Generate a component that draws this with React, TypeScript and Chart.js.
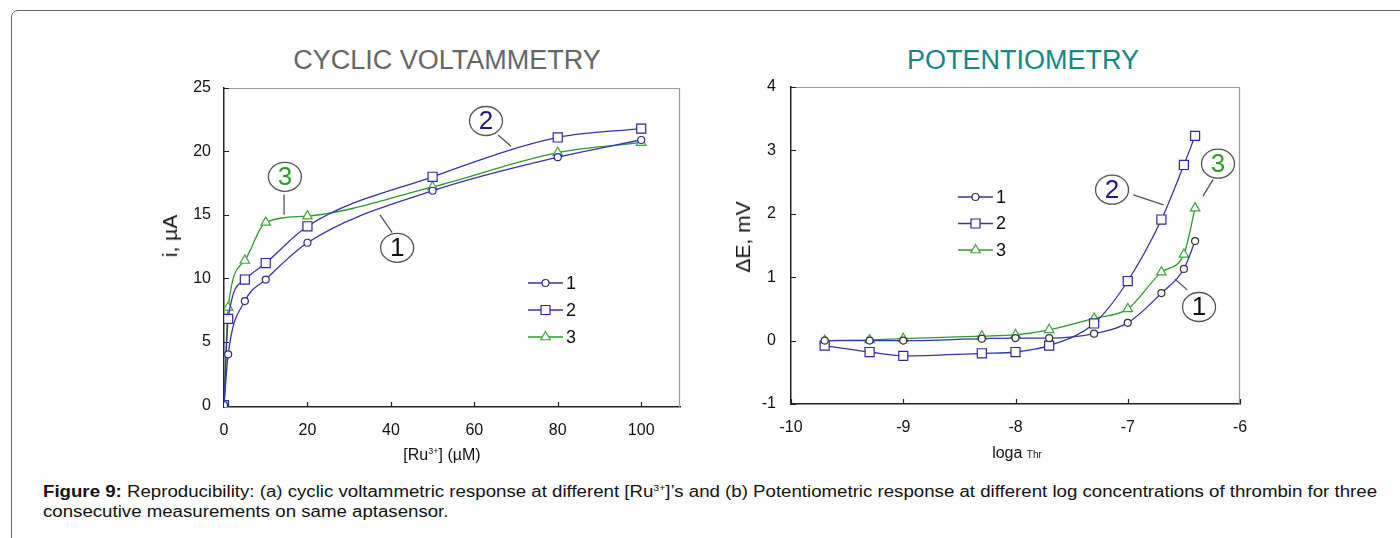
import React, { useEffect, useRef } from 'react';
import { Chart, registerables } from 'chart.js';

Chart.register(...registerables);

// ---------- Data: cyclic voltammetry ----------
const cvConc = [0, 1, 5, 10, 20, 50, 80, 100];
const cvRun1 = [0, 4.0, 8.2, 9.9, 12.8, 16.9, 19.55, 20.9];
const cvRun2 = [0, 6.8, 9.9, 11.2, 14.1, 18.0, 21.1, 21.8];
const cvRun3 = [0, 7.7, 11.4, 14.4, 14.9, 17.2, 19.9, 20.7];
const cvXTicks = [0, 20, 40, 60, 80, 100];
const cvYTicks = [0, 5, 10, 15, 20, 25];

// ---------- Data: potentiometry ----------
const potLog = [-9.7, -9.3, -9.0, -8.3, -8.0, -7.7, -7.3, -7.0, -6.7, -6.5, -6.4];
const potRun1 = [0, 0, 0, 0.03, 0.04, 0.04, 0.11, 0.28, 0.75, 1.13, 1.57];
const potRun2 = [-0.08, -0.18, -0.24, -0.2, -0.18, -0.08, 0.27, 0.94, 1.91, 2.77, 3.23];
const potRun3 = [0, 0.01, 0.03, 0.07, 0.09, 0.17, 0.35, 0.5, 1.08, 1.36, 2.09];
const potXTicks = [-10, -9, -8, -7, -6];
const potYTicks = [-1, 0, 1, 2, 3, 4];

const runNames = ['1', '2', '3'];

const FONT = '"Liberation Sans", Arial, Helvetica, sans-serif';
const BLUE = '#3636a6';
const BLUE_MK = '#2a2a9c';
const GREEN = '#2f9a2f';
const GREEN_MK = '#3fa53f';

type Note = { text: string; color: string; cx: number; cy: number; x1: number; y1: number; x2: number; y2: number };

const cvNotes: Note[] = [
  { text: '2', color: '#1b1b7c', cx: 62.8, cy: 22.4, x1: 65.7, y1: 21.3, x2: 68.8, y2: 20.4 },
  { text: '3', color: '#2f9a2f', cx: 14.6, cy: 18.0, x1: 14.4, y1: 16.6, x2: 14.4, y2: 15.0 },
  { text: '1', color: '#111111', cx: 41.5, cy: 12.4, x1: 40.3, y1: 13.6, x2: 37.4, y2: 15.0 },
];
const potNotes: Note[] = [
  { text: '2', color: '#1b1b7c', cx: -7.14, cy: 2.38, x1: -6.95, y1: 2.3, x2: -6.68, y2: 2.14 },
  { text: '3', color: '#2f9a2f', cx: -6.196, cy: 2.79, x1: -6.24, y1: 2.54, x2: -6.33, y2: 2.28 },
  { text: '1', color: '#111111', cx: -6.365, cy: 0.53, x1: -6.47, y1: 0.8, x2: -6.58, y2: 0.97 },
];

function drawMarker(ctx: CanvasRenderingContext2D, shape: string, x: number, y: number, stroke: string) {
  ctx.save();
  ctx.fillStyle = '#fff';
  ctx.strokeStyle = stroke;
  ctx.lineWidth = 1.2;
  ctx.beginPath();
  if (shape === 'circle') ctx.arc(x, y, 3.5, 0, Math.PI * 2);
  else if (shape === 'rect') ctx.rect(x - 4.5, y - 4.5, 9, 9);
  else {
    ctx.moveTo(x, y - 5.5);
    ctx.lineTo(x + 4.8, y + 2.75);
    ctx.lineTo(x - 4.8, y + 2.75);
    ctx.closePath();
  }
  ctx.fill();
  ctx.stroke();
  ctx.restore();
}

function makeDecor(
  notes: Note[],
  legend: { dx: number; dy: number; gap: number; len: number; lines: string[]; marks: string[]; shapes: string[] }
) {
  return {
    id: 'decor',
    beforeDatasetsDraw(chart: any) {
      const { ctx, chartArea: a, scales } = chart;
      ctx.save();
      // light frame on top and right
      ctx.strokeStyle = '#9a9a9a';
      ctx.lineWidth = 1.2;
      ctx.beginPath();
      ctx.moveTo(a.left, a.top + 0.5);
      ctx.lineTo(a.right - 0.5, a.top + 0.5);
      ctx.lineTo(a.right - 0.5, a.bottom);
      ctx.stroke();
      // inner ticks
      ctx.strokeStyle = '#222';
      ctx.lineWidth = 1.2;
      ctx.beginPath();
      scales.x.ticks.forEach((t: any) => {
        const px = Math.round(scales.x.getPixelForValue(t.value)) + 0.5;
        ctx.moveTo(px, a.bottom);
        ctx.lineTo(px, a.bottom - 5);
      });
      scales.y.ticks.forEach((t: any) => {
        const py = Math.round(scales.y.getPixelForValue(t.value)) + 0.5;
        ctx.moveTo(a.left, py);
        ctx.lineTo(a.left + 5, py);
      });
      ctx.stroke();
      ctx.restore();
    },
    afterDatasetsDraw(chart: any) {
      const { ctx, chartArea: a, scales } = chart;
      ctx.save();
      // legend
      runNames.forEach((name, i) => {
        const y = a.top + legend.dy + i * legend.gap;
        const x0 = a.left + legend.dx;
        ctx.strokeStyle = legend.lines[i];
        ctx.lineWidth = 1.3;
        ctx.beginPath();
        ctx.moveTo(x0, y);
        ctx.lineTo(x0 + legend.len, y);
        ctx.stroke();
        drawMarker(ctx, legend.shapes[i], x0 + legend.len / 2, y, legend.marks[i]);
        ctx.fillStyle = '#111';
        ctx.font = `18px ${FONT}`;
        ctx.textAlign = 'left';
        ctx.textBaseline = 'middle';
        ctx.fillText(name, x0 + legend.len + 3, y + 1);
      });
      // circled annotations
      notes.forEach((n) => {
        const sx = scales.x, sy = scales.y;
        ctx.strokeStyle = '#555';
        ctx.lineWidth = 1.3;
        ctx.beginPath();
        ctx.moveTo(sx.getPixelForValue(n.x1), sy.getPixelForValue(n.y1));
        ctx.lineTo(sx.getPixelForValue(n.x2), sy.getPixelForValue(n.y2));
        ctx.stroke();
        const cx = sx.getPixelForValue(n.cx), cy = sy.getPixelForValue(n.cy);
        ctx.beginPath();
        ctx.ellipse(cx, cy, 16.5, 14.5, 0, 0, Math.PI * 2);
        ctx.fillStyle = '#fff';
        ctx.fill();
        ctx.stroke();
        ctx.fillStyle = n.color;
        ctx.font = `26px ${FONT}`;
        ctx.textAlign = 'center';
        ctx.textBaseline = 'middle';
        ctx.fillText(n.text, cx, cy + 1);
      });
      ctx.restore();
    },
  };
}

function axisCommon(ticksList: number[], min: number, max: number, isX: boolean, pad: number, size: number) {
  return {
    type: 'linear' as const,
    min,
    max,
    grid: { display: false, drawTicks: false, tickLength: 0 },
    border: { display: true, color: '#222', width: 1.5 },
    ticks: { padding: pad, color: '#111', font: { family: FONT, size: 16 } },
    afterBuildTicks: (s: any) => {
      s.ticks = ticksList.map((v) => ({ value: v }));
    },
    afterFit: (s: any) => {
      if (isX) s.height = size;
      else s.width = size;
    },
  };
}

function makeDs(label: string, xs: number[], ys: number[], color: string, mk: string, shape: string, r: number) {
  return {
    label,
    data: xs.map((x, i) => ({ x, y: ys[i] })),
    borderColor: color,
    borderWidth: 1.3,
    pointStyle: shape,
    pointRadius: r,
    pointBorderColor: mk,
    pointBackgroundColor: '#fff',
    pointBorderWidth: 1.2,
    cubicInterpolationMode: 'monotone' as const,
    fill: false,
  };
}

function CvChart() {
  const ref = useRef<HTMLCanvasElement>(null);
  useEffect(() => {
    if (!ref.current) return;
    const chart = new Chart(ref.current, {
      type: 'line',
      data: {
        datasets: [
          makeDs(runNames[0], cvConc, cvRun1, BLUE, BLUE_MK, 'circle', 3.5),
          makeDs(runNames[1], cvConc, cvRun2, BLUE, BLUE_MK, 'rect', 6.4),
          makeDs(runNames[2], cvConc, cvRun3, GREEN, GREEN_MK, 'triangle', 5.5),
        ] as any,
      },
      options: {
        responsive: false,
        animation: false,
        events: [],
        layout: { padding: { left: 34, right: 20, top: 30, bottom: 23 } },
        plugins: { legend: { display: false }, tooltip: { enabled: false }, title: { display: false } },
        scales: {
          x: axisCommon(cvXTicks, 0, 109.3, true, 14, 40),
          y: axisCommon(cvYTicks, -0.15, 25, false, 13, 50),
        },
      } as any,
      plugins: [
        makeDecor(cvNotes, {
          dx: 304, dy: 195, gap: 27, len: 35,
          lines: [BLUE, BLUE, GREEN], marks: [BLUE_MK, BLUE_MK, GREEN_MK], shapes: ['circle', 'rect', 'triangle'],
        }),
      ],
    });
    return () => chart.destroy();
  }, []);
  return <canvas ref={ref} width={560} height={412} style={{ position: 'absolute', left: 140, top: 58, width: 560, height: 412 }} />;
}

function PotChart() {
  const ref = useRef<HTMLCanvasElement>(null);
  useEffect(() => {
    if (!ref.current) return;
    const chart = new Chart(ref.current, {
      type: 'line',
      data: {
        datasets: [
          makeDs(runNames[0], potLog, potRun1, BLUE, '#333', 'circle', 3.5),
          makeDs(runNames[1], potLog, potRun2, BLUE, BLUE_MK, 'rect', 6.4),
          makeDs(runNames[2], potLog, potRun3, GREEN, GREEN_MK, 'triangle', 5.5),
        ] as any,
      },
      options: {
        responsive: false,
        animation: false,
        events: [],
        layout: { padding: { left: 41, right: 30, top: 30, bottom: 25 } },
        plugins: { legend: { display: false }, tooltip: { enabled: false }, title: { display: false } },
        scales: {
          x: axisCommon(potXTicks, -10, -6, true, 14, 40),
          y: axisCommon(potYTicks, -1, 4, false, 15, 50),
        },
      } as any,
      plugins: [
        makeDecor(potNotes, {
          dx: 167, dy: 110, gap: 26.5, len: 35,
          lines: [BLUE, BLUE, GREEN], marks: ['#333', BLUE_MK, GREEN_MK], shapes: ['circle', 'rect', 'triangle'],
        }),
      ],
    });
    return () => chart.destroy();
  }, []);
  return <canvas ref={ref} width={570} height={412} style={{ position: 'absolute', left: 700, top: 57, width: 570, height: 412 }} />;
}

export default function App() {
  const abs = (s: React.CSSProperties): React.CSSProperties => ({ position: 'absolute', whiteSpace: 'nowrap', ...s });
  return (
    <div style={{ position: 'absolute', left: 0, top: 0, width: 1400, height: 538, overflow: 'hidden', background: '#fff', fontFamily: FONT, color: '#111' }}>
      <div style={{ position: 'absolute', left: 11, top: 10, width: 1420, height: 560, border: '1.5px solid #666', borderTopLeftRadius: 7, boxSizing: 'border-box' }} />
      <div style={abs({ left: 447, top: 60, transform: 'translate(-50%, -50%)', fontSize: 27, color: '#666' })}>CYCLIC VOLTAMMETRY</div>
      <div style={abs({ left: 1023, top: 60, transform: 'translate(-50%, -50%)', fontSize: 27, color: '#198585' })}>POTENTIOMETRY</div>
      <CvChart />
      <PotChart />
      <div style={abs({ left: 170, top: 236, transform: 'translate(-50%, -50%) rotate(-90deg)', fontSize: 21 })}>i, µA</div>
      <div style={abs({ left: 442, top: 455, transform: 'translate(-50%, -50%)', fontSize: 16 })}>
        [Ru<sup style={{ fontSize: 9 }}>3+</sup>] (µM)
      </div>
      <div style={abs({ left: 743, top: 237, transform: 'translate(-50%, -50%) rotate(-90deg)', fontSize: 21 })}>ΔE, mV</div>
      <div style={abs({ left: 1017, top: 453, transform: 'translate(-50%, -50%)', fontSize: 16 })}>
        loga <span style={{ fontSize: 10 }}>Thr</span>
      </div>
      <div style={abs({ left: 43, top: 482, fontSize: 16, lineHeight: '20px', color: '#111', transform: 'scaleX(1.166)', transformOrigin: '0 0' })}>
        <b>Figure 9:</b> Reproducibility: (a) cyclic voltammetric response at different [Ru<sup style={{ fontSize: 9, lineHeight: 0 }}>3+</sup>]’s and (b) Potentiometric response at different log concentrations of thrombin for three
        <br />
        consecutive measurements on same aptasensor.
      </div>
    </div>
  );
}
